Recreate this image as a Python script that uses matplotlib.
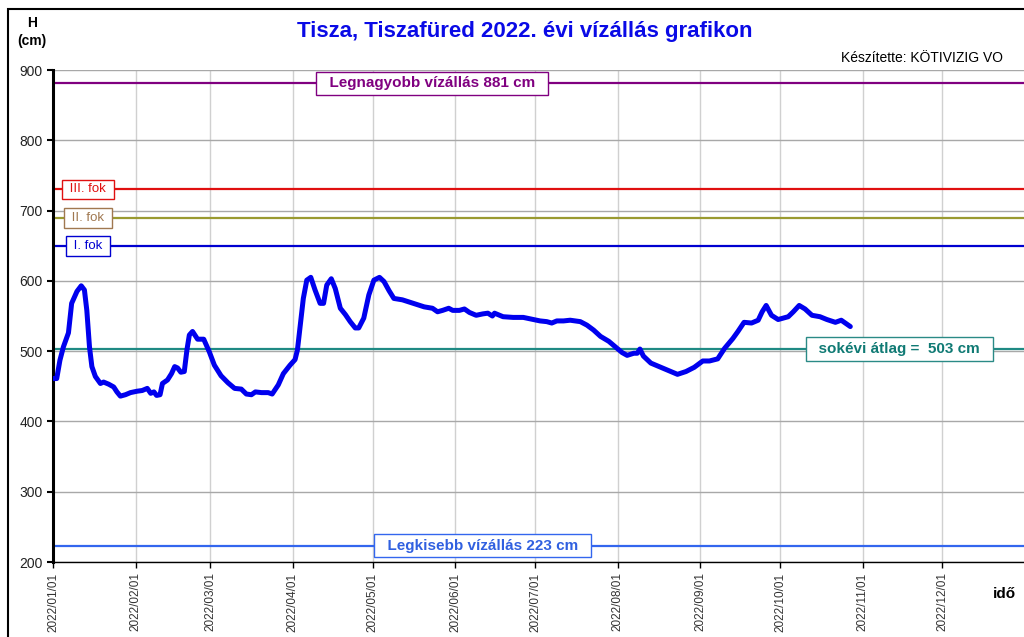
import numpy as np
import matplotlib
matplotlib.use("Agg")
import matplotlib.pyplot as plt
import matplotlib.dates as mdates
import matplotlib.transforms as mtransforms
from matplotlib.patches import Rectangle

plt.rcParams['font.family'] = ['Liberation Sans', 'DejaVu Sans']

# Tisza, Tiszafüred 2022 water level (days since 2022-01-01, cm)
days = [0, 1.4, 2.6, 3.9, 5.8, 7, 9, 10.6, 11.8, 12.7, 13.7, 14.6, 15.9, 17.8, 19,
        20.9, 22.8, 24, 25.3, 27.2, 29.1, 31.6, 33.5, 35.4, 36.7, 37.9, 38.9, 40.2,
        41.1, 43, 44.5, 45.7, 46.8, 48, 49.3, 50.3, 51.2, 52.4, 54.3, 56.6, 58.7,
        60.6, 63.1, 65.7, 68.2, 70.7, 72.6, 74.5, 76, 78.3, 80.8, 82.3, 84.6, 86.5,
        89, 90.9, 91.8, 92.7, 94, 95.3, 96.8, 98.4, 100.3, 101.6, 102.8, 104.5, 106,
        107.9, 109.8, 111.6, 113.5, 114.8, 116.7, 118.6, 120.5, 122.6, 124.3, 126.2,
        128, 131.2, 133.7, 136.2, 139.4, 142.5, 144.4, 146.3, 148.6, 150.1, 152.6,
        154.5, 156.4, 158.9, 161.4, 163.3, 165, 165.8, 169, 172.8, 176.6, 179.1,
        182.9, 185.4, 187.3, 189.2, 191.7, 194.2, 198, 200.5, 203, 205.6, 208.7,
        211.5, 213.7, 215.6, 218.1, 219.4, 220.4, 221.7, 224.5, 227.6, 230.7, 234.5,
        237.7, 240.8, 244, 246.5, 249.6, 252.2, 255.3, 257.2, 259.5, 262.3, 264.8,
        266.3, 267.8, 269.8, 272.3, 276.1, 278, 280.2, 282.4, 285, 288, 290.6, 293.8,
        296, 297.5, 299.4]
levels = [461, 461, 487, 506, 526, 568, 585, 593, 587, 558, 506, 478, 464, 454, 456,
          453, 449, 442, 436, 438, 441, 443, 444, 447, 440, 442, 437, 438,
          454, 459, 468, 478, 476, 470, 471, 502, 523, 528, 517, 517, 499,
          480, 465, 455, 447, 446, 439, 438, 442, 441, 441, 439, 452, 468,
          480, 488, 502, 532, 575, 601, 605, 587, 568, 568, 594, 603, 589,
          561, 552, 542, 533, 533, 547, 580, 601, 605, 599, 586,
          575, 573, 570, 567, 563, 561, 556, 558, 561, 558, 558,
          560, 555, 551, 553, 554, 550, 554, 549, 548, 548, 546,
          543, 542, 540, 543, 543, 544, 542, 537, 530, 521, 514,
          505, 498, 494, 497, 497, 503, 493, 483, 478, 473, 467,
          471, 477, 486, 486, 489, 504, 518, 528, 541, 540, 544,
          556, 565, 551, 545, 549, 556, 565, 560, 551, 549, 545, 541,
          544, 540, 535]

month_ticks = ['2022-%02d-01' % m for m in range(1, 13)]

# reference lines: (value, line colour, label, text colour, edge colour, x position, bold)
ref_lines = [
    (881, '#800080', 'Legnagyobb vízállás 881 cm', '#800080', '#800080', 0.390, True),
    (730, '#e01010', 'III. fok', '#e01010', '#e01010', 0.036, False),
    (690, '#9a9a30', 'II. fok', '#a07850', '#a07850', 0.036, False),
    (650, '#0000d0', 'I. fok', '#0000d0', '#0000d0', 0.036, False),
    (503, '#1f8a84', 'sokévi átlag =  503 cm', '#107a74', '#2a8a86', 0.871, True),
    (223, '#3366ee', 'Legkisebb vízállás 223 cm', '#3060e0', '#3366ee', 0.442, True),
]

start = mdates.datestr2num('2022-01-01')
x = start + np.array(days)

fig = plt.figure(figsize=(10.24, 6.37), dpi=100)
fig.add_artist(Rectangle((8 / 1024, -0.1), 1.2, 1.1 - 9 / 637, transform=fig.transFigure,
                         fill=False, edgecolor='black', lw=1.5))
ax = fig.add_axes([53 / 1024, 75 / 637, 972 / 1024, 492 / 637])

ax.set_xlim(start, mdates.datestr2num('2023-01-01'))
ax.set_ylim(200, 900)
ax.set_yticks(range(200, 901, 100))
ax.set_xticks([mdates.datestr2num(d) for d in month_ticks])
ax.xaxis.set_major_formatter(mdates.DateFormatter('%Y/%m/%d'))
for lab in ax.get_xticklabels():
    lab.set_rotation(90)
ax.tick_params(axis='x', labelsize=8.5, labelcolor='#333333', length=4, width=1)
ax.tick_params(axis='y', labelsize=10, labelcolor='#222222', length=4, width=1.5)

ax.grid(axis='x', color='#d0d0d0', lw=1)
ax.grid(axis='y', color='#a8a8a8', lw=1)
ax.set_axisbelow(True)
for s in ['top', 'right']:
    ax.spines[s].set_visible(False)
ax.spines['left'].set_linewidth(2.2)
ax.spines['bottom'].set_linewidth(1)

trans = mtransforms.blended_transform_factory(ax.transAxes, ax.transData)
for val, lc, label, tc, ec, xp, bold in ref_lines:
    ax.axhline(val, color=lc, lw=1.6, zorder=2)
    ax.text(xp, val, '  ' + label + '  ' if bold else ' ' + label + ' ', transform=trans,
            ha='center', va='center', color=tc, fontsize=11 if bold else 9.5,
            fontweight='bold' if bold else 'normal', zorder=5,
            bbox=dict(boxstyle='square,pad=0.3', fc='white', ec=ec, lw=1))

ax.plot(x, levels, color='#0000ee', lw=3.6, solid_capstyle='round', zorder=4)

fig.text(525 / 1024, 1 - 31 / 637, 'Tisza, Tiszafüred 2022. évi vízállás grafikon',
         ha='center', va='center', color='#0a0ae6', fontsize=16, fontweight='bold')
fig.text(32 / 1024, 1 - 32 / 637, 'H\n(cm)', ha='center', va='center',
         fontsize=10, fontweight='bold', linespacing=1.3)
fig.text(1003 / 1024, 1 - 58 / 637, 'Készítette: KÖTIVIZIG VO', ha='right', va='center',
         fontsize=10)
fig.text(1004 / 1024, 1 - 594 / 637, 'idő', ha='center', va='center',
         fontsize=11, fontweight='bold')

fig.savefig('out.png', dpi=100)
